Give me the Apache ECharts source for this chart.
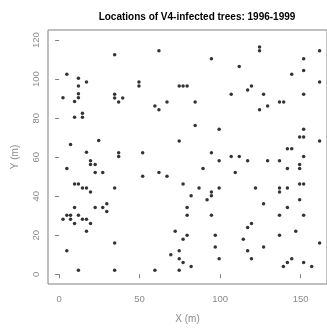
<!DOCTYPE html>
<html>
<head>
<meta charset="utf-8">
<script src="https://cdn.jsdelivr.net/npm/echarts@6/dist/echarts.min.js"></script>
<style>
  html, body { margin: 0; padding: 0; background: #fff; }
  #chart { width: 327px; height: 329px; }
</style>
</head>
<body>
<div id="chart"></div>
<script>
// tree locations (m)
var treeX = [
  4.8, 12, 17, 12, 12, 2.4, 12, 9.6, 14.5, 9.6, 14.5, 7.1, 24.6, 17,
  19.5, 19.5, 22.4, 4.8, 22.4, 27.1, 9.6, 12, 14.5, 17, 19.5, 9.6, 22.4, 27.1,
  29.6, 29.6, 4.8, 7.1, 12, 2.4, 7.1, 14.5, 17, 9.6, 19.5, 17, 4.8, 12,
  34.5, 62, 94.6, 49.6, 49.6, 74.6, 77, 79.5, 34.5, 34.5, 39.5, 37, 59.5, 62,
  67, 84.5, 84.5, 99.4, 74.6, 37, 51.9, 94.6,
  37, 99.4, 51.9, 62, 67, 89.4, 34.5, 77, 86.9, 99.4, 82, 94.6, 94.6, 91.9,
  79.5, 79.5, 94.6, 72.1, 79.5, 77, 97, 34.5, 97, 74.6, 69.4, 74.6, 99.4, 77,
  82, 34.5, 59.5, 74.6,
  124.5, 124.5, 161.8, 151.9, 111.9, 151.9, 144.5, 161.8, 119.5, 117.1, 106.9, 127, 151.9, 136.9,
  139.5, 129.5, 124.5, 151.9, 149.4, 151.9, 161.8, 141.8, 144.5,
  106.9, 111.9, 117.1, 129.5, 136.9, 151.9, 141.8, 149.4, 149.4, 109.4, 122, 136.9, 141.8, 136.9,
  149.4, 151.9, 149.4, 127, 141.8, 136.9, 151.9, 119.5, 117.1, 147, 136.9, 114.4, 161.8, 117.1,
  127, 119.5, 144.5, 141.8, 139.3, 151.9, 156.9
]
var treeY = [
  102.5, 100.5, 98.5, 96.5, 92.5, 90.5, 90.5, 88.5, 82.5, 80.5, 80.5, 66.5, 68.5, 62.5,
  58.2, 56.2, 56.2, 54.2, 52.2, 52.2, 46.2, 46.2, 44.2, 44.2, 42.2, 34.2, 34.2, 34.2,
  36.2, 32.2, 30.2, 30.2, 30.2, 28.2, 28.2, 28.2, 28.2, 26, 26, 22, 12, 2,
  112.5, 114.5, 110.5, 98.5, 96.5, 96.5, 96.5, 96.5, 92.3, 90.3, 90.3, 88.3, 86.3, 84.3,
  88.3, 88.3, 76.3, 74.3, 68.3, 62.3, 62.3, 62.3,
  60.3, 58.2, 50.2, 52.2, 50.2, 54.2, 44.2, 46.2, 44.2, 44.2, 40.2, 42.2, 40.2, 38.2,
  34.2, 30.2, 30.2, 22, 20, 18, 20, 16, 14, 12, 10, 8, 8, 6,
  4, 2, 2, 2,
  116.5, 114.5, 114.5, 110.5, 106.5, 104.5, 102.5, 98.5, 96.5, 94.5, 92.3, 92.3, 92.3, 88.3,
  88.3, 86.3, 84.3, 74.3, 70.3, 70.3, 68.3, 64.3, 64.3,
  60.3, 60.3, 58.2, 58.2, 58.2, 60.3, 54.2, 56.2, 54.2, 52.2, 44.2, 44.2, 44.2, 42.2,
  46.2, 46.2, 38.2, 36.2, 34.2, 30.2, 30.2, 26, 24, 22, 20, 18, 16, 12,
  14, 8, 8, 6, 4, 6, 4
]
var xTicks = [0, 50, 100, 150]
var yTicks = [0, 20, 40, 60, 80, 100, 120]

var points = []
for (var i = 0; i < treeX.length; i++) {
  points.push([treeX[i], treeY[i]])
}

var axisGrey = '#808080'
var labelGrey = '#8a8a8a'
var font = 'Liberation Sans, Arial, sans-serif'

var chart = echarts.init(document.getElementById('chart'))
chart.setOption({
  animation: false,
  backgroundColor: '#fff',
  title: {
    text: 'Locations of V4-infected trees: 1996-1999',
    left: 192,
    top: 7,
    textAlign: 'center',
    textStyle: {
      fontFamily: font,
      fontSize: 10,
      fontWeight: 'bold',
      color: '#000'
    }
  },
  grid: {
    left: 48,
    top: 30,
    width: 280,
    height: 261,
    show: true,
    borderColor: axisGrey,
    borderWidth: 1
  },
  xAxis: {
    type: 'value',
    min: -6.9,
    max: 166.4,
    name: 'X (m)',
    nameLocation: 'middle',
    nameGap: 30,
    nameTextStyle: { color: labelGrey, fontFamily: font, fontSize: 10 },
    axisLine: { show: false },
    splitLine: { show: false },
    axisTick: {
      show: true,
      length: 4,
      customValues: xTicks,
      lineStyle: { color: axisGrey }
    },
    axisLabel: {
      customValues: xTicks,
      margin: 10,
      color: labelGrey,
      fontFamily: font,
      fontSize: 9.5
    }
  },
  yAxis: {
    type: 'value',
    min: -5,
    max: 125.2,
    name: 'Y (m)',
    nameLocation: 'middle',
    nameGap: 28,
    nameRotate: 90,
    nameTextStyle: { color: labelGrey, fontFamily: font, fontSize: 10 },
    axisLine: { show: false },
    splitLine: { show: false },
    axisTick: {
      show: true,
      length: 4,
      customValues: yTicks,
      lineStyle: { color: axisGrey }
    },
    axisLabel: {
      customValues: yTicks,
      rotate: 90,
      margin: 7,
      color: labelGrey,
      fontFamily: font,
      fontSize: 9.5
    }
  },
  series: [
    {
      type: 'scatter',
      data: points,
      symbol: 'circle',
      symbolSize: 3.5,
      itemStyle: { color: '#000' }
    }
  ]
})
</script>
</body>
</html>
